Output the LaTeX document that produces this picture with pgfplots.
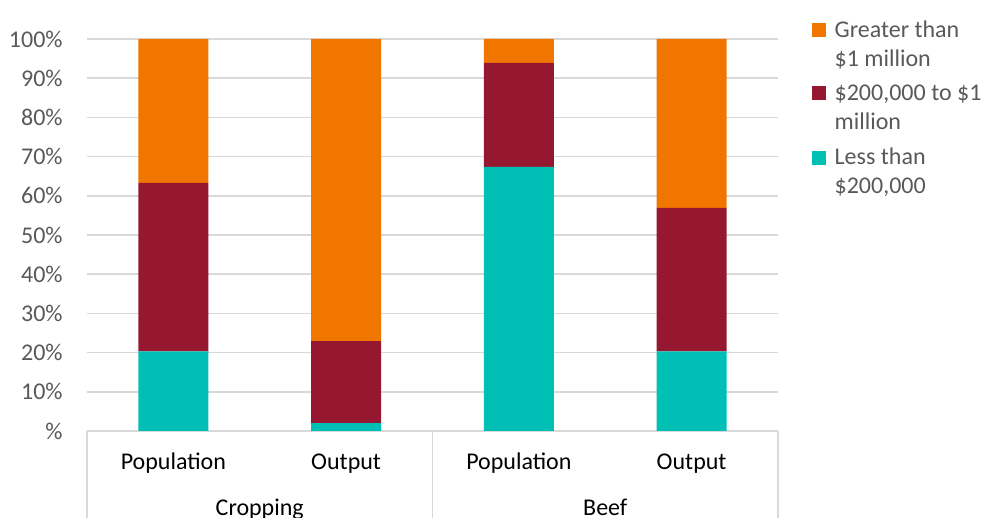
\documentclass[border=0pt]{standalone}
\usepackage{pgfplots}
\pgfplotsset{compat=1.18}
\usepackage{fontspec}
\setmainfont{Carlito}
\definecolor{corange}{HTML}{F07600}
\definecolor{cmaroon}{HTML}{961830}
\definecolor{cteal}{HTML}{00BFB4}
\definecolor{txtgray}{HTML}{595959}
\definecolor{gridgray}{HTML}{D9D9D9}
\begin{document}
\begin{tikzpicture}
\useasboundingbox (0,0) rectangle (492pt,259pt);
\begin{axis}[
  at={(43.5pt,43.5pt)}, anchor=south west,
  scale only axis, width=345.5pt, height=196pt,
  ybar stacked, bar width=35pt,
  xmin=-0.5, xmax=3.5, ymin=0, ymax=100,
  xtick={0,1,2,3}, xticklabels={Population,Output,Population,Output},
  ytick={0,10,...,100},
  yticklabels={\%,10\%,20\%,30\%,40\%,50\%,60\%,70\%,80\%,90\%,100\%},
  major tick length=0pt,
  axis line style={draw=none},
  ymajorgrids, grid style={gridgray, line width=0.75pt},
  font=\fontsize{12}{14.5}\selectfont,
  yticklabel style={text=txtgray, anchor=east, inner sep=0pt, xshift=-12pt},
  xticklabel style={text=black, anchor=base, yshift=-19.5pt},
  reverse legend,
  legend style={draw=none, fill=none, at={(axis description cs:1.049,1.058)}, anchor=north west, inner sep=0pt, font=\fontsize{12}{14.5}\selectfont, cells={anchor=base west, align=left, inner sep=0pt, text=txtgray}, column sep=2.2pt, row sep=3.8pt},
  legend image code/.code={\fill[#1,draw=none] (0pt,14.5pt) rectangle (7pt,21.5pt);},
  clip=false,
]
\addplot[fill=cteal, draw=none] coordinates {(0,20.3) (1,2.0) (2,67.4) (3,20.3)};
\addplot[fill=cmaroon, draw=none] coordinates {(0,43.0) (1,20.9) (2,26.5) (3,36.6)};
\addplot[fill=corange, draw=none] coordinates {(0,36.7) (1,77.1) (2,6.1) (3,43.1)};
\legend{Less than\\\$200{,}000, \$200{,}000 to \$1\\million, Greater than\\\$1 million}
\draw[gridgray, line width=0.75pt] (axis cs:-0.5,0) -- ([yshift=-50pt]axis cs:-0.5,0);
\draw[gridgray, line width=0.75pt] (axis cs:1.5,0) -- ([yshift=-50pt]axis cs:1.5,0);
\draw[gridgray, line width=0.75pt] (axis cs:3.5,0) -- ([yshift=-50pt]axis cs:3.5,0);
\node[anchor=base, yshift=-42pt, inner sep=0pt] at (axis cs:0.5,0) {Cropping};
\node[anchor=base, yshift=-42pt, inner sep=0pt] at (axis cs:2.5,0) {Beef};
\end{axis}
\end{tikzpicture}
\end{document}
